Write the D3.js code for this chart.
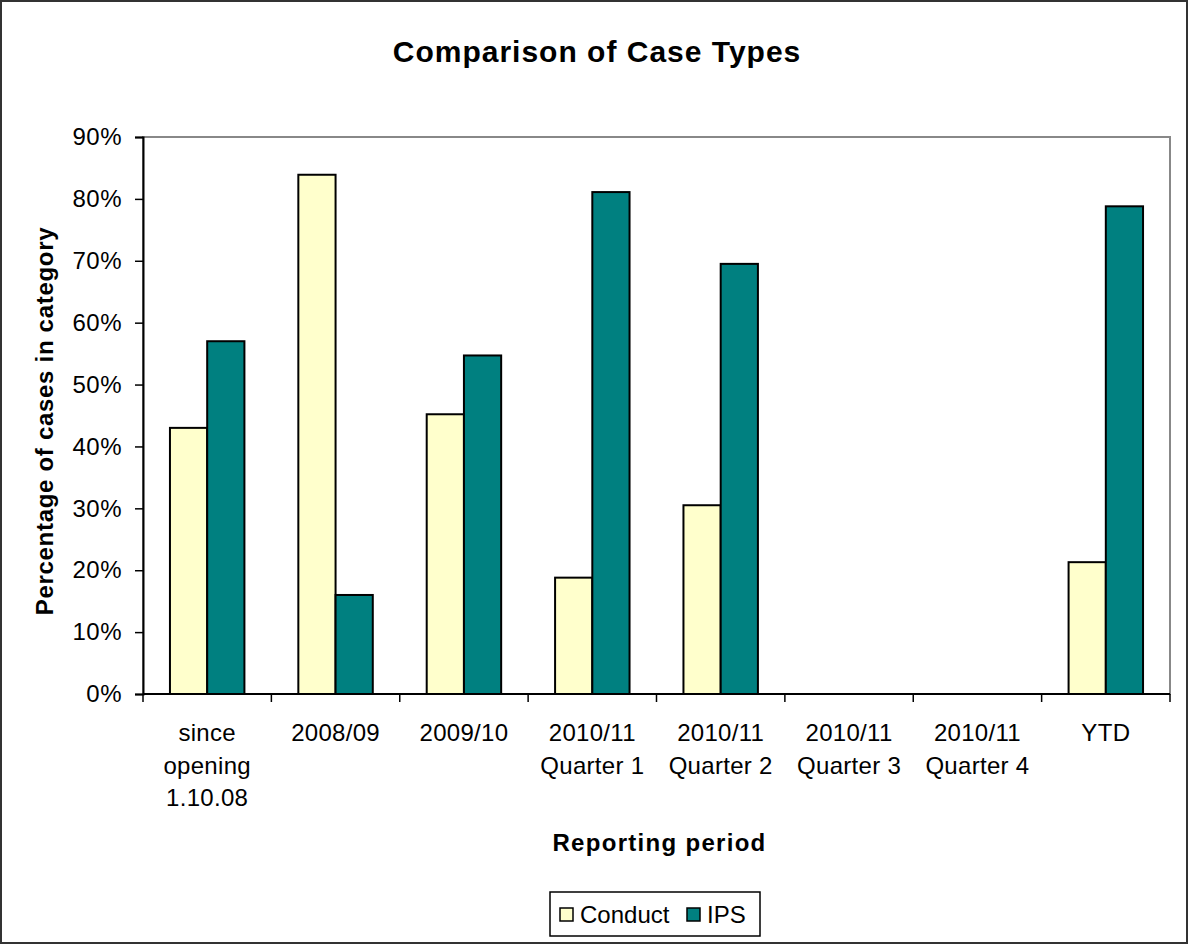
<!DOCTYPE html>
<html>
<head>
<meta charset="utf-8">
<script src="https://cdn.jsdelivr.net/npm/d3@7"></script>
<style>
  body { margin: 0; background: #fff; }
  text { font-family: Arial, "Liberation Sans", sans-serif; fill: #000; }
</style>
</head>
<body>
<div id="chart"></div>
<script>
// --- DATOS ---
const categories = [
  ["since", "opening", "1.10.08"],
  ["2008/09"],
  ["2009/10"],
  ["2010/11", "Quarter 1"],
  ["2010/11", "Quarter 2"],
  ["2010/11", "Quarter 3"],
  ["2010/11", "Quarter 4"],
  ["YTD"]
];
const seriesNames = ["Conduct", "IPS"];
const conduct = [43.0, 83.9, 45.2, 18.8, 30.5, null, null, 21.3];
const ips = [57.0, 16.0, 54.7, 81.1, 69.5, null, null, 78.8];
const yTicks = [0, 10, 20, 30, 40, 50, 60, 70, 80, 90];
const colors = ["#FFFFCC", "#008080"];

// --- CONFIGURACIÓN ---
const W = 1189, H = 945;
const margin = { top: 137, right: 19, bottom: 251, left: 143 };
const width = W - margin.left - margin.right;
const height = H - margin.top - margin.bottom;

const svg = d3.select("#chart").append("svg")
  .attr("width", W).attr("height", H);

// marco exterior
svg.append("rect")
  .attr("x", 1).attr("y", 1).attr("width", W - 3).attr("height", H - 3)
  .attr("fill", "#fff").attr("stroke", "#333").attr("stroke-width", 2);

svg.append("text")
  .attr("x", 597).attr("y", 62)
  .attr("text-anchor", "middle")
  .style("font-size", "30px").style("font-weight", "bold").style("letter-spacing", "1px")
  .text("Comparison of Case Types");

const g = svg.append("g").attr("transform", `translate(${margin.left},${margin.top})`);

// --- ESCALAS ---
const x0 = d3.scaleBand().domain(d3.range(categories.length)).range([0, width]).paddingInner(0).paddingOuter(0);
const x1 = d3.scaleBand().domain(seriesNames).range([x0.bandwidth() * 0.21, x0.bandwidth() * 0.79]);
const y = d3.scaleLinear().domain([0, 90]).range([height, 0]);

// borde del área de trazado
g.append("rect")
  .attr("width", width).attr("height", height)
  .attr("fill", "none").attr("stroke", "#888").attr("stroke-width", 2);

// --- BARRAS ---
const rows = categories.map((c, i) => ({ i, vals: [conduct[i], ips[i]] }));
const groups = g.selectAll(".grp").data(rows).enter().append("g")
  .attr("transform", d => `translate(${x0(d.i)},0)`);
groups.selectAll("rect")
  .data(d => d.vals.map((v, k) => ({ k, v })).filter(e => e.v != null))
  .enter().append("rect")
  .attr("x", e => x1(seriesNames[e.k]))
  .attr("width", x1.bandwidth())
  .attr("y", e => y(e.v))
  .attr("height", e => height - y(e.v))
  .attr("fill", e => colors[e.k])
  .attr("stroke", "#000").attr("stroke-width", 2);

// --- EJES ---
const yAxis = g.append("g")
  .call(d3.axisLeft(y).tickValues(yTicks).tickFormat(d => d + "%").tickSize(8).tickPadding(13));
yAxis.select(".domain").attr("stroke", "#000").attr("stroke-width", 2);
yAxis.selectAll(".tick line").attr("stroke", "#000").attr("stroke-width", 1.5);
yAxis.selectAll(".tick text").style("font-size", "24px").style("letter-spacing", "0.5px").attr("font-family", null);

const xAxisG = g.append("g").attr("transform", `translate(0,${height})`);
xAxisG.append("line").attr("x1", 0).attr("x2", width).attr("stroke", "#000").attr("stroke-width", 2);
xAxisG.selectAll(".xt").data(d3.range(categories.length + 1)).enter().append("line")
  .attr("x1", i => i < categories.length ? x0(i) : width)
  .attr("x2", i => i < categories.length ? x0(i) : width)
  .attr("y1", 0).attr("y2", 8)
  .attr("stroke", "#000").attr("stroke-width", 1.5);
xAxisG.selectAll(".xl").data(rows).enter().append("text")
  .attr("x", d => x0(d.i) + x0.bandwidth() / 2)
  .attr("y", 47)
  .attr("text-anchor", "middle")
  .style("font-size", "24px").style("letter-spacing", "0.3px")
  .each(function(d) {
    d3.select(this).selectAll("tspan").data(categories[d.i]).enter().append("tspan")
      .attr("x", x0(d.i) + x0.bandwidth() / 2)
      .attr("dy", (t, j) => j === 0 ? 0 : 32.5)
      .text(t => t);
  });

// títulos de ejes
svg.append("text")
  .attr("x", margin.left + width / 2 + 3).attr("y", 851)
  .attr("text-anchor", "middle")
  .style("font-size", "24px").style("font-weight", "bold").style("letter-spacing", "1.3px")
  .text("Reporting period");

svg.append("text")
  .attr("transform", `translate(53,421) rotate(-90)`)
  .attr("text-anchor", "middle")
  .style("font-size", "24px").style("font-weight", "bold").style("letter-spacing", "0.7px")
  .text("Percentage of cases in category");

// --- LEYENDA ---
const legend = svg.append("g").attr("transform", "translate(550,892)");
legend.append("rect").attr("width", 210).attr("height", 44)
  .attr("fill", "#fff").attr("stroke", "#000").attr("stroke-width", 1.5);
const items = [{ name: seriesNames[0], x: 10, c: colors[0] }, { name: seriesNames[1], x: 137, c: colors[1] }];
const li = legend.selectAll(".li").data(items).enter().append("g")
  .attr("transform", d => `translate(${d.x},0)`);
li.append("rect").attr("y", 16).attr("width", 13).attr("height", 13)
  .attr("fill", d => d.c).attr("stroke", "#000").attr("stroke-width", 1.5);
li.append("text").attr("x", 20).attr("y", 31)
  .style("font-size", "24px").text(d => d.name);
</script>
</body>
</html>
